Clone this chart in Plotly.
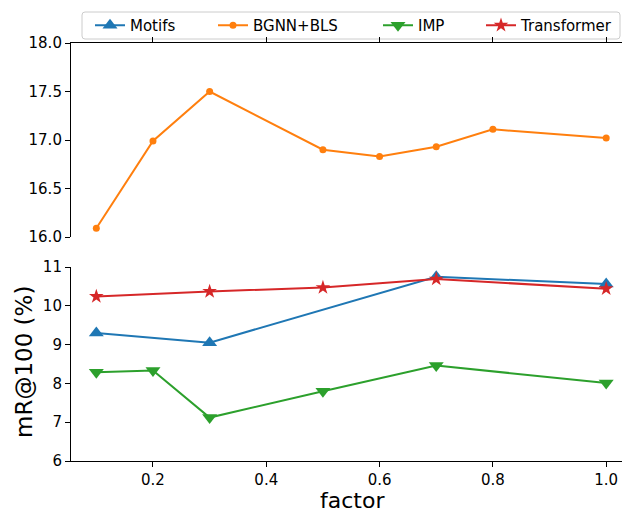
import plotly.graph_objects as go

# ---- data ----
motifs_x = [0.1, 0.3, 0.7, 1.0]
motifs_y = [9.30, 9.05, 10.75, 10.56]

bgnn_x = [0.1, 0.2, 0.3, 0.5, 0.6, 0.7, 0.8, 1.0]
bgnn_y = [16.09, 16.99, 17.50, 16.90, 16.83, 16.93, 17.11, 17.02]

imp_x = [0.1, 0.2, 0.3, 0.5, 0.7, 1.0]
imp_y = [8.29, 8.33, 7.12, 7.80, 8.46, 8.01]

trans_x = [0.1, 0.3, 0.5, 0.7, 1.0]
trans_y = [10.24, 10.37, 10.47, 10.69, 10.44]

x_ticks = [0.2, 0.4, 0.6, 0.8, 1.0]
x_label = "factor"
y_label = "mR@100 (%)"

W, H = 622, 511
FONT = "DejaVu Sans"

def px_x(p):
    return p / W

def px_y(p):
    return (H - p) / H

fig = go.Figure()

fig.add_trace(go.Scatter(
    x=motifs_x, y=motifs_y, name="Motifs", mode="lines+markers",
    line=dict(color="#1f77b4", width=2),
    marker=dict(symbol="triangle-up", size=13, color="#1f77b4"),
    xaxis="x", yaxis="y", legend="legend"))
fig.add_trace(go.Scatter(
    x=bgnn_x, y=bgnn_y, name="BGNN+BLS", mode="lines+markers",
    line=dict(color="#ff7f0e", width=2),
    marker=dict(symbol="circle", size=7, color="#ff7f0e"),
    xaxis="x2", yaxis="y2", legend="legend2"))
fig.add_trace(go.Scatter(
    x=imp_x, y=imp_y, name="IMP", mode="lines+markers",
    line=dict(color="#2ca02c", width=2),
    marker=dict(symbol="triangle-down", size=13, color="#2ca02c"),
    xaxis="x", yaxis="y", legend="legend3"))
fig.add_trace(go.Scatter(
    x=trans_x, y=trans_y, name="Transformer", mode="lines+markers",
    line=dict(color="#d62728", width=2),
    marker=dict(symbol="star", size=11, color="#d62728"),
    xaxis="x", yaxis="y", legend="legend4"))

x_left = 71
x0_val = 0.0553
x1_val = 1.0279

axis_common = dict(
    showline=True, linecolor="black", linewidth=1.1,
    ticks="outside", ticklen=5, tickwidth=1.1, tickcolor="black",
    showgrid=False, zeroline=False, automargin=False,
    tickfont=dict(family=FONT, size=15, color="black"),
)

leg_common = dict(
    orientation="h", yanchor="middle", xanchor="left",
    y=px_y(25.5), bgcolor="rgba(0,0,0,0)", borderwidth=0,
    font=dict(family=FONT, size=15, color="black"),
)

# legend frame (rounded rectangle)
lx0, lx1, ly0, ly1, r = 82, 620, 12, 39, 3
path = (f"M {px_x(lx0+r)},{px_y(ly0)} L {px_x(lx1-r)},{px_y(ly0)} "
        f"Q {px_x(lx1)},{px_y(ly0)} {px_x(lx1)},{px_y(ly0+r)} "
        f"L {px_x(lx1)},{px_y(ly1-r)} Q {px_x(lx1)},{px_y(ly1)} {px_x(lx1-r)},{px_y(ly1)} "
        f"L {px_x(lx0+r)},{px_y(ly1)} Q {px_x(lx0)},{px_y(ly1)} {px_x(lx0)},{px_y(ly1-r)} "
        f"L {px_x(lx0)},{px_y(ly0+r)} Q {px_x(lx0)},{px_y(ly0)} {px_x(lx0+r)},{px_y(ly0)} Z")

fig.update_layout(
    width=W, height=H,
    margin=dict(l=0, r=0, t=0, b=0),
    paper_bgcolor="white", plot_bgcolor="white",
    showlegend=True,
    font=dict(family=FONT, size=15, color="black"),
    xaxis=dict(
        domain=[px_x(x_left), 1], range=[x0_val, x1_val], anchor="y",
        tickvals=x_ticks, tickformat=".1f",
        **axis_common),
    xaxis2=dict(
        domain=[px_x(x_left), 1], range=[x0_val, x1_val], anchor="y2", matches="x",
        side="top", tickvals=x_ticks, showticklabels=False,
        **axis_common),
    yaxis=dict(
        domain=[px_y(461), px_y(267)], range=[6, 11], anchor="x",
        tickvals=[6, 7, 8, 9, 10, 11],
        **axis_common),
    yaxis2=dict(
        domain=[px_y(237), px_y(43)], range=[16, 18], anchor="x2",
        tickvals=[16.0, 16.5, 17.0, 17.5, 18.0], tickformat=".1f",
        **axis_common),
    legend=dict(x=px_x(90), **leg_common),
    legend2=dict(x=px_x(213), **leg_common),
    legend3=dict(x=px_x(378), **leg_common),
    legend4=dict(x=px_x(481), **leg_common),
    shapes=[dict(type="path", path=path, xref="paper", yref="paper",
                 line=dict(color="#cccccc", width=1), fillcolor="white", layer="below")],
    annotations=[
        dict(text=x_label, x=px_x(352), y=px_y(500), xref="paper", yref="paper",
             xanchor="center", yanchor="middle", showarrow=False,
             font=dict(family=FONT, size=22, color="black")),
        dict(text=y_label, x=px_x(24), y=px_y(362), xref="paper", yref="paper",
             xanchor="center", yanchor="middle", showarrow=False, textangle=-90,
             font=dict(family=FONT, size=23, color="black")),
    ],
)

fig.write_html("out.html")
